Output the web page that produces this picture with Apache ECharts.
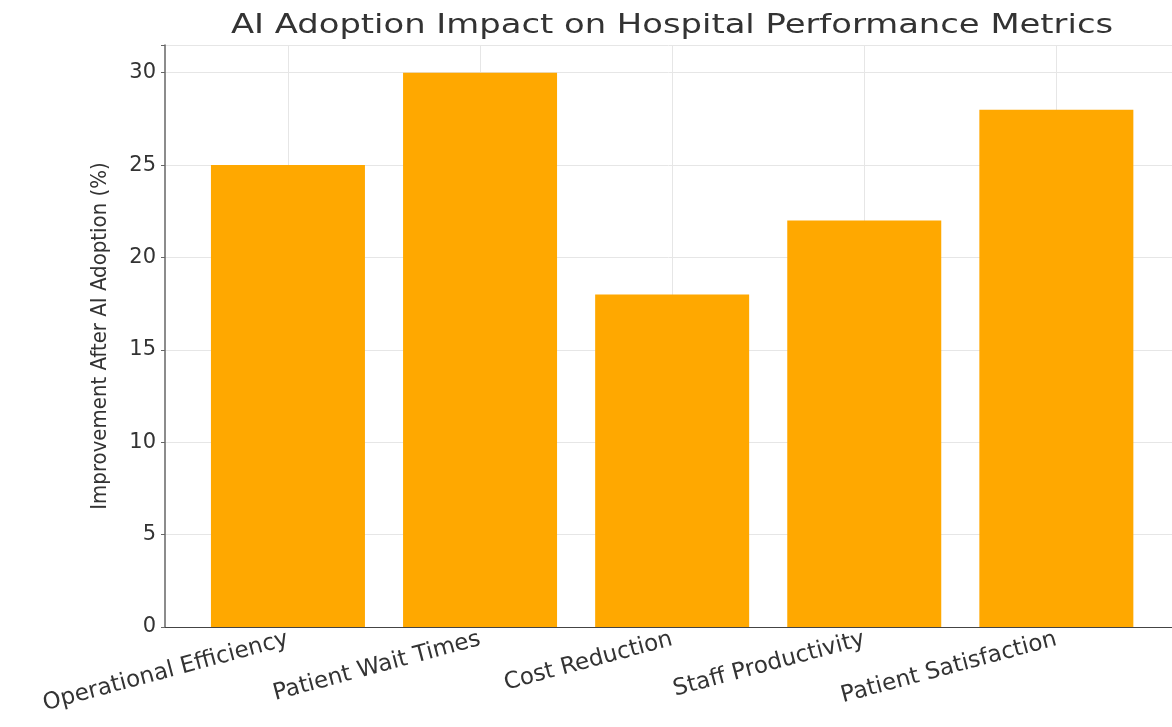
<!DOCTYPE html>
<html>
<head>
<meta charset="utf-8">
<script src="https://cdn.jsdelivr.net/npm/echarts@6/dist/echarts.min.js"></script>
<style>
  html, body { margin: 0; padding: 0; background: #fff; }
  #chart { width: 1172px; height: 727px; }
</style>
</head>
<body>
<div id="chart"></div>
<script>
// chart data
var categories = ['Operational Efficiency', 'Patient Wait Times', 'Cost Reduction', 'Staff Productivity', 'Patient Satisfaction'];
var improvement = [25, 30, 18, 22, 28];
var yTicks = [0, 5, 10, 15, 20, 25, 30];
var chartTitle = 'AI Adoption Impact on Hospital Performance Metrics';

var positions = categories.map(function (c, i) { return i; });

var chart = echarts.init(document.getElementById('chart'));
var option = {
    backgroundColor: '#ffffff',
    animation: false,
    // title drawn as graphic text so it can be stretched like the reference
    graphic: [{
        type: 'text',
        x: 672,
        y: 26,
        scaleX: 1.3,
        style: {
            text: chartTitle,
            textAlign: 'center',
            textVerticalAlign: 'middle',
            fontFamily: 'DejaVu Sans',
            fontSize: 26,
            fill: '#333'
        }
    }],
    grid: {
        left: 165,
        right: 0,
        top: 45,
        bottom: 100
    },
    xAxis: {
        type: 'value',
        min: -0.64,
        max: 4.602,
        axisLine: { show: true, onZero: false, lineStyle: { color: '#444', width: 1.2 } },
        axisTick: {
            show: true,
            customValues: positions,
            inside: true,
            length: 4,
            lineStyle: { color: '#444' }
        },
        axisLabel: {
            customValues: positions,
            rotate: 15,
            margin: 12,
            fontFamily: 'DejaVu Sans',
            fontSize: 23,
            color: '#333',
            formatter: function (v) { return categories[Math.round(v)]; }
        },
        splitLine: {
            show: true,
            customValues: positions,
            lineStyle: { color: '#e6e6e6', width: 1 }
        }
    },
    yAxis: {
        type: 'value',
        min: 0,
        max: 31.5,
        interval: 5,
        name: 'Improvement After AI Adoption (%)',
        nameLocation: 'middle',
        nameGap: 54,
        nameTextStyle: {
            fontFamily: 'DejaVu Sans Condensed',
            fontSize: 22,
            color: '#333'
        },
        axisLine: { show: true, onZero: false, lineStyle: { color: '#666', width: 1.5 } },
        axisTick: { show: true, length: 4, lineStyle: { color: '#666' } },
        axisLabel: {
            margin: 9,
            fontFamily: 'DejaVu Sans',
            fontSize: 21,
            color: '#333',
            formatter: function (v) { return yTicks.indexOf(v) >= 0 ? String(v) : ''; }
        },
        splitLine: { show: true, lineStyle: { color: '#e6e6e6', width: 1 } }
    },
    series: [{
        type: 'bar',
        barWidth: 154,
        itemStyle: { color: '#FFA800' },
        z: 3,
        data: improvement.map(function (v, i) { return [positions[i], v]; })
    }]
};
chart.setOption(option);
</script>
</body>
</html>
